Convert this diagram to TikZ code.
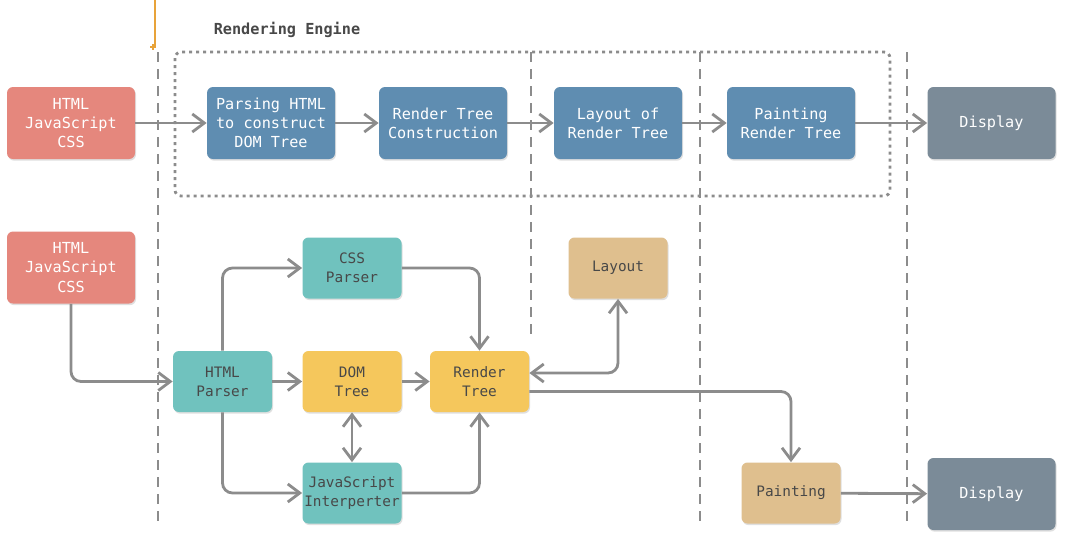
\documentclass[tikz,border=0pt]{standalone}
\usepackage{fontspec}
\setmonofont{DejaVu Sans Mono}
\usetikzlibrary{arrows.meta,shadows}
\definecolor{salmon}{HTML}{E5877D}
\definecolor{steel}{HTML}{5F8DB1}
\definecolor{slate}{HTML}{7B8B98}
\definecolor{teal}{HTML}{70C2BE}
\definecolor{mustard}{HTML}{F5C75C}
\definecolor{sand}{HTML}{DFBF8E}
\definecolor{wire}{HTML}{8C8C8C}
\definecolor{ink}{HTML}{484848}
\definecolor{cursor}{HTML}{E8A33A}
\begin{document}
\begin{tikzpicture}[x=0.5pt,y=-0.5pt,
	box/.style={rounded corners=3pt, inner sep=0pt, align=center, drop shadow={shadow xshift=0.5pt, shadow yshift=-0.8pt, opacity=0.25}},
	big/.style={box, minimum width=64pt, minimum height=36pt, font=\ttfamily\fontsize{7.6}{9.6}\selectfont},
	small/.style={box, minimum width=49.5pt, minimum height=30.5pt, font=\ttfamily\fontsize{7.2}{9.6}\selectfont},
	arr/.style={draw=wire, line width=1.4pt, rounded corners=5pt, -{Straight Barb[length=6pt,width=9pt]}},
	darr/.style={arr, {Straight Barb[length=6pt,width=9pt]}-{Straight Barb[length=6pt,width=9pt]}},
	lane/.style={draw=wire, line width=1.4pt, dash pattern=on 5pt off 3.5pt}]
	\useasboundingbox (0,0) rectangle (1070,548);
	\fill[white] (0,0) rectangle (1070,548);
	\draw[cursor, line width=1pt] (155,0)--(155,47) (150,47)--(156,47) (153,44)--(153,50);
	\node[font=\ttfamily\bfseries\fontsize{7.6}{9}\selectfont, text=ink] (title) at (287,30) {Rendering Engine};
	\draw[draw=wire, line width=1.4pt, dash pattern=on 1.5pt off 2pt, rounded corners=3pt] (175,52) rectangle (890,196);
	\foreach \x/\y in {158/527, 531/340, 700/527, 907/527}
		\draw[lane] (\x,52)--(\x,\y);
	\node[big, fill=salmon, text=white] (srcA) at (71,123) {HTML\\JavaScript\\CSS};
	\node[big, fill=steel, text=white] (parse) at (271,123) {Parsing HTML\\to construct\\DOM Tree};
	\node[big, fill=steel, text=white] (rtc) at (443,123) {Render Tree\\Construction};
	\node[big, fill=steel, text=white] (lay) at (618,123) {Layout of\\Render Tree};
	\node[big, fill=steel, text=white] (paint) at (791,123) {Painting\\Render Tree};
	\node[big, fill=slate, text=white] (dispA) at (991.5,123) {Display};
	\node[big, fill=salmon, text=white] (srcB) at (71,267.5) {HTML\\JavaScript\\CSS};
	\node[small, fill=teal, text=ink] (hp) at (222.5,381.5) {HTML\\Parser};
	\node[small, fill=teal, text=ink] (css) at (352,268) {CSS\\Parser};
	\node[small, fill=mustard, text=ink] (dom) at (352,381.5) {DOM\\Tree};
	\node[small, fill=mustard, text=ink] (rt) at (479.5,381.5) {Render\\Tree};
	\node[small, fill=teal, text=ink] (js) at (352,493) {JavaScript\\Interperter};
	\node[small, fill=sand, text=ink] (layout) at (618,268) {Layout};
	\node[small, fill=sand, text=ink] (painting) at (791,493) {Painting};
	\node[big, fill=slate, text=white] (dispB) at (991.5,494) {Display};
	\draw[arr] (srcA)--(parse);
	\draw[arr] (parse)--(rtc);
	\draw[arr] (rtc)--(lay);
	\draw[arr] (lay)--(paint);
	\draw[arr] (paint)--(dispA);
	\draw[arr] (srcB) |- (hp);
	\draw[arr] (hp) |- (css);
	\draw[arr] (hp) |- (js);
	\draw[arr] (hp)--(dom);
	\draw[arr] (dom)--(rt);
	\draw[darr] (dom)--(js);
	\draw[arr] (css) -| (rt);
	\draw[arr] (js) -| (rt);
	\draw[darr] ([yshift=4.25pt]rt.east) -| (layout);
	\draw[arr] ([yshift=-5pt]rt.east) -| (painting);
	\draw[arr] (painting)--(dispB);
\end{tikzpicture}
\end{document}
